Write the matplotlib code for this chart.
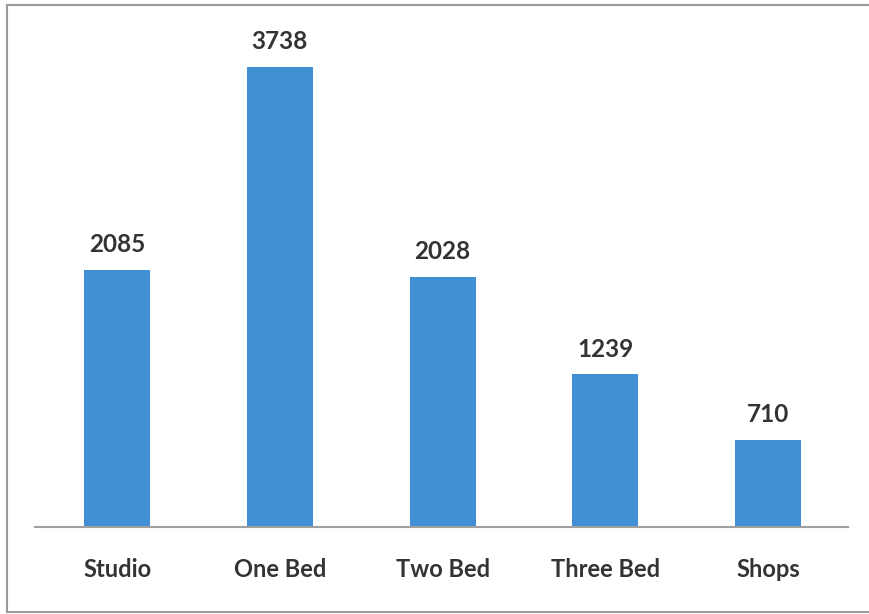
import matplotlib.pyplot as plt
from matplotlib.lines import Line2D

categories = ['Studio', 'One Bed', 'Two Bed', 'Three Bed', 'Shops']
counts = [2085, 3738, 2028, 1239, 710]

plt.rcParams['font.family'] = ['Lato', 'DejaVu Sans']

fig = plt.figure(figsize=(8.7, 6.14), dpi=100)
ax = fig.add_axes([0.0402, 0.1417, 0.9345, 0.822])

x = list(range(len(categories)))
bars = ax.bar(x, counts, width=0.405, color='#4190d6')

# value labels above each bar
for rect, val in zip(bars, counts):
    ax.annotate(str(val), (rect.get_x() + rect.get_width() / 2, rect.get_height()),
                xytext=(0, 10), textcoords='offset points',
                ha='center', va='bottom', fontsize=17.5, fontweight='bold', color='#333333')

ax.set_xlim(-0.504, 4.49)
ax.set_ylim(0, 4100)
ax.set_xticks(x)
ax.set_xticklabels(categories, fontsize=17, fontweight='bold', color='#333333')
ax.tick_params(axis='x', length=0, pad=22)
ax.set_yticks([])

for side in ['top', 'right', 'left']:
    ax.spines[side].set_visible(False)
ax.spines['bottom'].set_color('#a0a0a0')
ax.spines['bottom'].set_linewidth(1.5)

# frame of the scanned chart (left, top, bottom edges)
W, H = 870, 614
frame_kw = dict(color='#9a9a9a', linewidth=1.5, transform=fig.transFigure)
fig.add_artist(Line2D([7 / W, 7 / W], [1 - 5 / H, 1 - 612 / H], **frame_kw))
fig.add_artist(Line2D([7 / W, 1.0], [1 - 5 / H, 1 - 5 / H], **frame_kw))
fig.add_artist(Line2D([7 / W, 1.0], [1 - 612 / H, 1 - 612 / H], **frame_kw))

fig.savefig('out.png', dpi=100)
